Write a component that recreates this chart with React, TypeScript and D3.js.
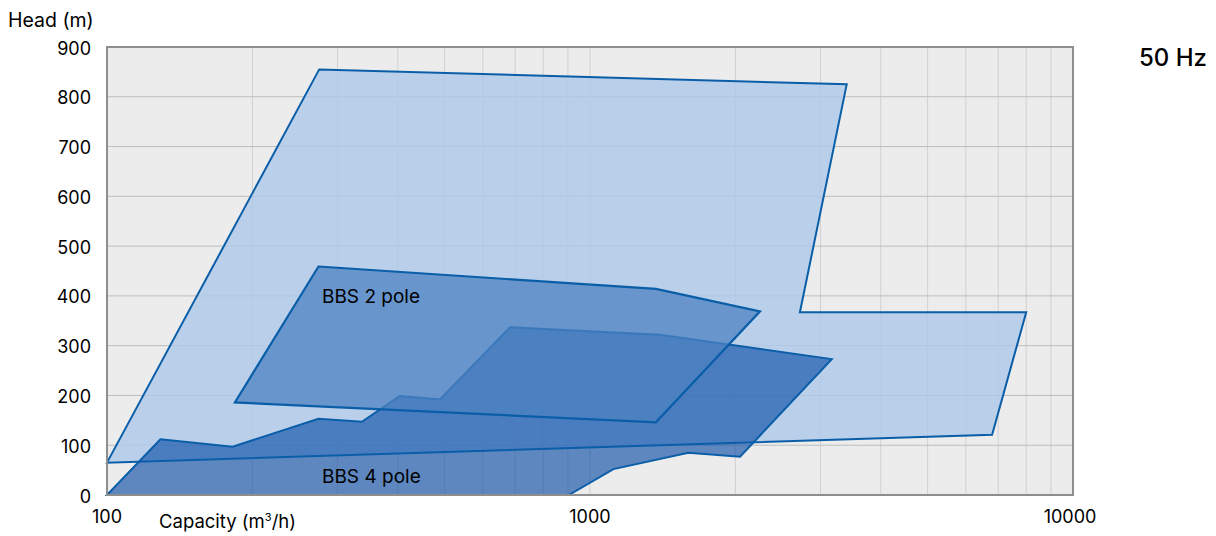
import React from "react";
import * as d3 from "d3";

// ---- data (capacity m3/h, head m) ----
const bigEnvelopeQ = [100, 275, 3400, 2720, 8000, 6800];
const bigEnvelopeH = [65, 855, 825, 367, 367, 121];

const pole4Q = [100, 129, 182, 274, 337, 404, 489, 683, 1396, 3166, 2045, 1598, 1118, 904];
const pole4H = [0, 112, 97, 153, 147, 199, 192, 337, 322, 273, 77, 85, 52, 0];

const pole2Q = [274, 1369, 2249, 1369, 184];
const pole2H = [459, 414, 369, 146, 186];

const yTicks = [0, 100, 200, 300, 400, 500, 600, 700, 800, 900];
const xTickLabels = [100, 1000, 10000];
const xMinorGrid = [200, 300, 400, 500, 600, 700, 800, 900, 1000, 2000, 3000, 4000, 5000, 6000, 7000, 8000, 9000];

const W = 1216;
const H = 536;
const left = 107;
const right = 1073;
const top = 47;
const bottom = 495;

const FONT = "Inter, 'Liberation Sans', Arial, sans-serif";
const STROKE = "#0a5ea8";

export default function App() {
  const x = d3.scaleLog().domain([100, 10000]).range([left, right]);
  const y = d3.scaleLinear().domain([0, 900]).range([bottom, top]);

  const toPts = (qs: number[], hs: number[]) => qs.map((q, i) => [x(q), y(hs[i])] as [number, number]);
  const poly = (qs: number[], hs: number[]) =>
    (d3.line<[number, number]>().x((d) => d[0]).y((d) => d[1])(toPts(qs, hs)) || "") + "Z";

  const bigPath = poly(bigEnvelopeQ, bigEnvelopeH);
  const p4Path = poly(pole4Q, pole4H);
  const p2Path = poly(pole2Q, pole2H);

  return (
    <svg
      width={W}
      height={H}
      style={{ position: "absolute", left: 0, top: 0, background: "#fff" }}
      fontFamily={FONT}
    >
      <rect x={left} y={top} width={right - left} height={bottom - top} fill="#ececec" />
      {xMinorGrid.map((v) => (
        <line key={"vx" + v} x1={x(v)} x2={x(v)} y1={top} y2={bottom} stroke="#d0d0d0" strokeWidth={1} />
      ))}
      {yTicks.map((v) => (
        <line key={"hy" + v} x1={left} x2={right} y1={y(v)} y2={y(v)} stroke="#bdbdbd" strokeWidth={1} />
      ))}

      <path d={bigPath} fill="#acc8ea" fillOpacity={0.8} stroke="none" />
      <path d={p4Path} fill="#0045a4" fillOpacity={0.6} stroke={STROKE} strokeWidth={2} strokeLinejoin="miter" />
      <path d={p2Path} fill="#4c81c2" fillOpacity={0.75} stroke="none" />
      <path d={bigPath} fill="none" stroke={STROKE} strokeWidth={2} />
      <path d={p2Path} fill="none" stroke={STROKE} strokeWidth={2.2} />

      <rect x={left} y={top} width={right - left} height={bottom - top} fill="none" stroke="#8e8e8e" strokeWidth={2} />

      {yTicks.map((v) => (
        <text key={"yl" + v} x={91} y={y(v) + 1} textAnchor="end" dominantBaseline="central" fontSize={18} fill="#000">
          {v}
        </text>
      ))}
      {xTickLabels.map((v) => (
        <text key={"xl" + v} x={x(v) - (v === 10000 ? 3 : 0)} y={523} textAnchor="middle" fontSize={18} fill="#000">
          {v}
        </text>
      ))}

      <text x={159} y={528} fontSize={18.5} fill="#000">
        Capacity (m<tspan dy={-7} fontSize={11}>3</tspan>
        <tspan dy={7}>/h)</tspan>
      </text>
      <text x={8} y={27} fontSize={19.5} fill="#000">
        Head (m)
      </text>
      <text x={1139} y={65.5} fontSize={24} fontWeight={500} fill="#000">
        50 Hz
      </text>
      <text x={322} y={303} fontSize={19} fill="#000">
        BBS 2 pole
      </text>
      <text x={322} y={483} fontSize={19} fill="#000">
        BBS 4 pole
      </text>
    </svg>
  );
}
